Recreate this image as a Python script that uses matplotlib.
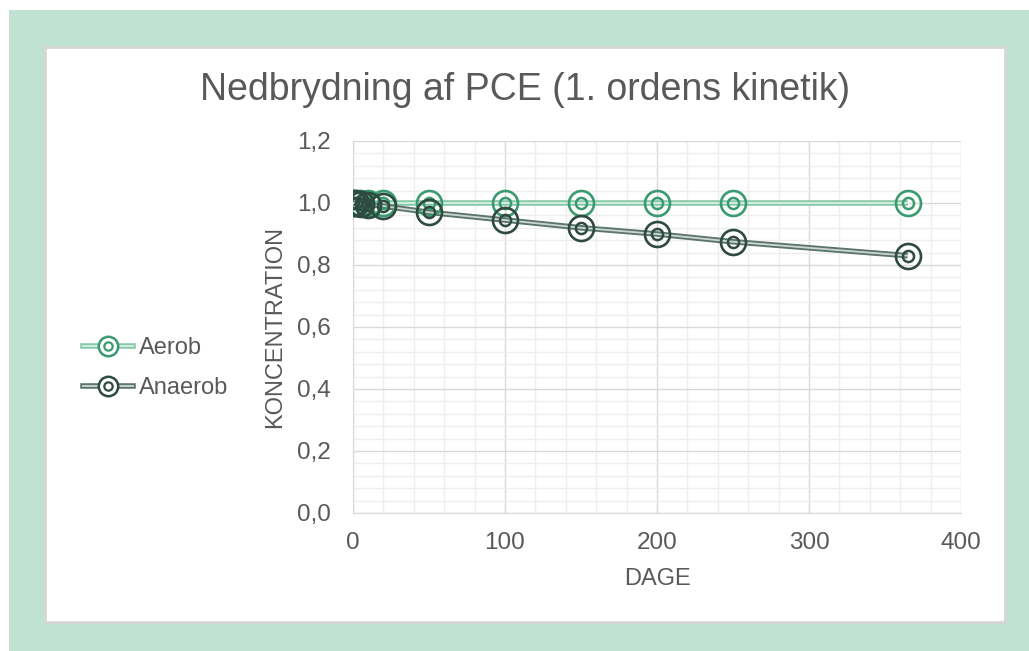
import numpy as np
import matplotlib
matplotlib.use("Agg")
import matplotlib.pyplot as plt
from matplotlib.lines import Line2D
from matplotlib.patches import Rectangle
from matplotlib.ticker import MultipleLocator, FuncFormatter

plt.rcParams['font.family'] = ['Liberation Sans', 'DejaVu Sans']

days = [0, 2, 5, 10, 20, 50, 100, 150, 200, 250, 365]
aerob = [1.0, 1.0, 1.0, 1.0, 1.0, 1.0, 1.0, 1.0, 1.0, 1.0, 1.0]
anaerob = [1.0, 0.999, 0.997, 0.995, 0.99, 0.97, 0.945, 0.92, 0.90, 0.875, 0.83]

W, H = 1029, 651
fig = plt.figure(figsize=(W / 100, H / 100), dpi=100)
fig.patch.set_facecolor('white')

# green frame and white card
fig.patches.append(Rectangle((9 / W, 0), 1 - 9 / W, 1 - 10 / H, transform=fig.transFigure,
                             facecolor='#bfe2d2', edgecolor='none', zorder=0))
fig.patches.append(Rectangle((45 / W, 1 - 622 / H), 960 / W, 575 / H, transform=fig.transFigure,
                             facecolor='white', edgecolor='#d6d6d6', linewidth=2, zorder=1))

ax = fig.add_axes([353 / W, 1 - 513 / H, (961 - 353) / W, (513 - 141) / H])
ax.set_facecolor('none')
ax.set_zorder(2)

gray = '#595959'
series = [
    ('Aerob', aerob, '#86c9a9', '#3a9a70'),
    ('Anaerob', anaerob, '#5a756a', '#2f4a40'),
]
handles = []
for name, vals, lc, mc in series:
    ax.plot(days, vals, color=lc, lw=4.0, solid_capstyle='butt', zorder=3)
    ax.plot(days, vals, color='white', lw=1.3, alpha=0.7, zorder=3)
    ax.plot(days, vals, ls='none', marker='o', ms=18, mfc='none', mec=mc, mew=1.9, zorder=4)
    ax.plot(days, vals, ls='none', marker='o', ms=8, mfc='none', mec=mc, mew=1.8, zorder=4)
    h = (Line2D([], [], color=lc, lw=4.0), Line2D([], [], color='white', lw=1.3, alpha=0.7),
         Line2D([], [], ls='none', marker='o', ms=14, mfc='white', mec=mc, mew=1.8),
         Line2D([], [], ls='none', marker='o', ms=6, mfc='none', mec=mc, mew=1.6))
    handles.append(h)

ax.set_xlim(0, 400)
ax.set_ylim(0, 1.2)
ax.xaxis.set_major_locator(MultipleLocator(100))
ax.xaxis.set_minor_locator(MultipleLocator(20))
ax.yaxis.set_major_locator(MultipleLocator(0.2))
ax.yaxis.set_minor_locator(MultipleLocator(0.04))
ax.yaxis.set_major_formatter(FuncFormatter(lambda v, p: f"{v:.1f}".replace('.', ',')))
ax.grid(which='major', color='#d9d9d9', lw=1.0)
ax.grid(which='minor', color='#eeeeee', lw=1.0)
ax.set_axisbelow(True)
ax.tick_params(which='both', length=0, labelsize=17.5, labelcolor=gray)
ax.tick_params(axis='x', pad=14)
ax.tick_params(axis='y', pad=16)
for s in ['top', 'right']:
    ax.spines[s].set_visible(False)
for s in ['left', 'bottom']:
    ax.spines[s].set_color('#d9d9d9')

ax.set_xlabel('DAGE', fontsize=17, color=gray, labelpad=10)
ax.set_ylabel('KONCENTRATION', fontsize=17, color=gray, labelpad=8)

fig.text(525 / W, 1 - 90 / H, 'Nedbrydning af PCE (1. ordens kinetik)', fontsize=27,
         color=gray, ha='center', va='center')

fig.legend(handles, [s[0] for s in series], loc='center left',
           bbox_to_anchor=(62 / W, 1 - 368 / H), frameon=False, fontsize=17,
           labelcolor=gray, handlelength=2.1, handletextpad=0.25, labelspacing=0.75)

fig.savefig('out.png', dpi=100, facecolor=fig.get_facecolor())
